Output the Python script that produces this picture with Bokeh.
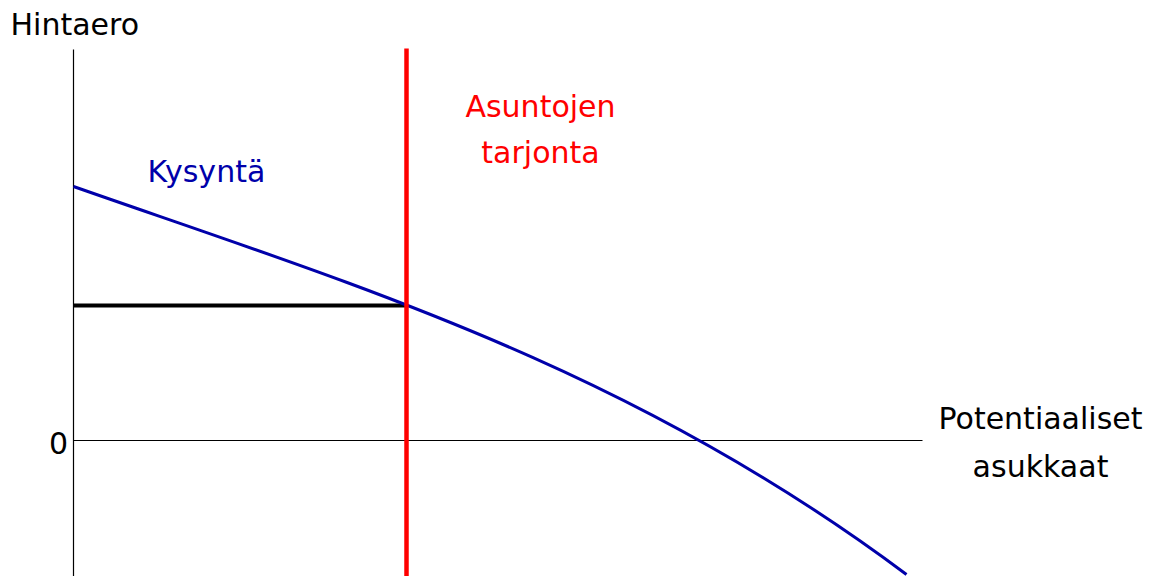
from bokeh.plotting import figure
from bokeh.models import Range1d
from bokeh.core.properties import value
from bokeh.embed import file_html
from bokeh.resources import INLINE

# ---- data (units: potential residents on x, price difference on y) ----
# demand curve as a cubic Bezier: start, end and two control points
demand_start = (0.0, 2.54)
demand_end = (8.33, -1.34)
demand_ctrl0 = (2.777, 1.568)
demand_ctrl1 = (5.553, 0.741)

supply_x = 3.33
supply_top = 3.92
equilibrium_y = 1.35

axis_top = 3.91
axis_bottom = -1.45
x_axis_end = 8.49

y_label = "Hintaero"
x_label_lines = ["Potentiaaliset", "asukkaat"]
demand_label = "Kysyntä"
supply_label_lines = ["Asuntojen", "tarjonta"]
zero_label = "0"

FONT = value("DejaVu Sans")
SIZE = value("30px")
BLUE = "#0000aa"
RED = "#ff0000"

W, H = 1151, 576
x0 = -0.73
y_top = 4.40
p = figure(width=W, height=H, output_backend="svg", toolbar_location=None,
           x_range=Range1d(x0, x0 + W / 100), y_range=Range1d(y_top - H / 100, y_top),
           x_axis_type=None, y_axis_type=None, min_border=0)
p.grid.visible = False
p.outline_line_color = None
p.background_fill_color = "white"
p.border_fill_color = "white"

# axes
p.line([0, 0], [axis_bottom, axis_top], line_color="black", line_width=1.2)
p.line([0, x_axis_end], [0, 0], line_color="black", line_width=1.2)

# equilibrium price line
p.line([0, supply_x], [equilibrium_y, equilibrium_y], line_color="black", line_width=4)

# demand curve
p.bezier(x0=[demand_start[0]], y0=[demand_start[1]],
         x1=[demand_end[0]], y1=[demand_end[1]],
         cx0=[demand_ctrl0[0]], cy0=[demand_ctrl0[1]],
         cx1=[demand_ctrl1[0]], cy1=[demand_ctrl1[1]],
         line_color=BLUE, line_width=3)

# supply line
p.line([supply_x, supply_x], [axis_bottom, supply_top], line_color=RED, line_width=4.5)

# texts
p.text(x=[-0.63], y=[4.16], text=[y_label], text_font=FONT, text_font_size=SIZE,
       text_color="black", text_align="left", text_baseline="alphabetic")
p.text(x=[-0.15], y=[-0.02], text=[zero_label], text_font=FONT, text_font_size=SIZE,
       text_color="black", text_align="center", text_baseline="alphabetic")
p.text(x=[9.67, 9.67], y=[0.22, -0.26], text=x_label_lines, text_font=FONT,
       text_font_size=SIZE, text_color="black", text_align="center",
       text_baseline="alphabetic")
p.text(x=[0.74], y=[2.69], text=[demand_label], text_font=FONT, text_font_size=SIZE,
       text_color=BLUE, text_align="left", text_baseline="alphabetic")
p.text(x=[4.67, 4.67], y=[3.34, 2.88], text=supply_label_lines, text_font=FONT,
       text_font_size=SIZE, text_color=RED, text_align="center",
       text_baseline="alphabetic")

open("out.html", "w").write(file_html(p, INLINE))
